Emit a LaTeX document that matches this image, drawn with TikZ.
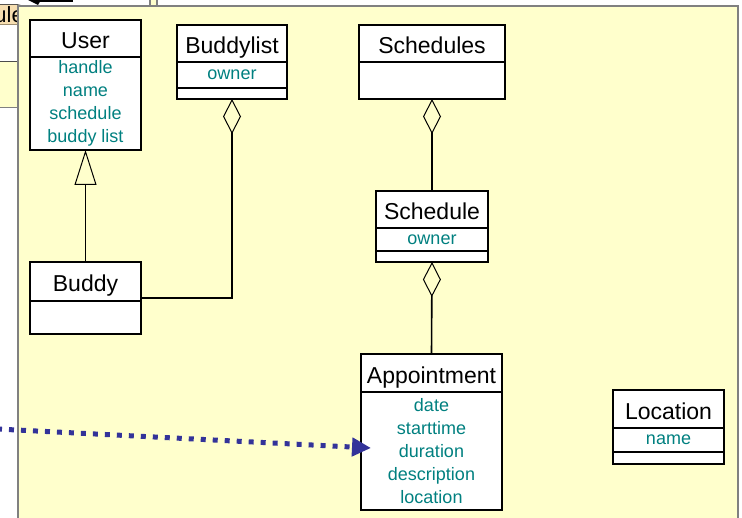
\documentclass[tikz,border=0pt]{standalone}
\usepackage{fontspec}
\setmainfont{Liberation Sans}
\usetikzlibrary{arrows.meta}

\definecolor{panel}{RGB}{255,255,204}
\definecolor{attrcol}{RGB}{0,128,128}
\definecolor{flowcol}{RGB}{51,51,153}
\definecolor{tabcol}{RGB}{246,222,176}

\begin{document}
\begin{tikzpicture}[x=1pt,y=-1pt,
  box/.style={draw, line width=1.6pt, fill=white, inner sep=0pt, outer sep=0pt, anchor=north west},
  head/.style={box, font=\fontsize{23}{25}\selectfont, text height=22pt, text depth=1pt},
  attr/.style={box, text=attrcol, align=center, font=\fontsize{18}{23}\selectfont},
  gen/.style={line width=1.6pt, -{Triangle[open, length=35pt, width=22pt, line width=1pt]}},
  aggr/.style={line width=1.6pt, -{Diamond[open, length=35pt, width=18pt, line width=1pt]}},
  flow/.style={flowcol, line width=5pt, dash pattern=on 5pt off 7pt, -{Triangle[length=19pt, width=18pt]}}
]

  \clip (0,0) rectangle (742,518);

  % Hintergrund
  \fill[white] (0,0) rectangle (742,518);
  \fill[panel] (0,62) rectangle (18,108);
  \draw[line width=1pt, black!70] (0,62) -- (18,62);
  \draw[line width=1pt, gray] (0,108) -- (18,108);
  \node[draw, fill=tabcol, rounded corners=8pt, inner sep=2pt, anchor=south east,
        font=\fontsize{22}{24}\selectfont] (tab) at (26,25) {ule};
  \fill (28,0) -- (41,0) -- (38,5) -- cycle;
  \draw[line width=1.5pt] (40,1) -- (73,1);
  \fill[panel] (150,0) rectangle (157,6);
  \draw[gray, line width=1.5pt] (150,0) -- (150,6) (157,0) -- (157,6);

  % Diagrammfläche
  \draw[gray, line width=2pt, fill=panel] (18,6.5) rectangle (738,540);

  % User
  \node[head, minimum width=111pt, minimum height=37pt] (userhead) at (30,20) {User};
  \node[attr, minimum width=111pt, minimum height=93pt] (userattr) at (userhead.south west)
    {handle\\name\\schedule\\buddy list};

  % Buddylist
  \node[head, minimum width=110pt, minimum height=37pt] (blhead) at (177,25) {Buddylist};
  \node[attr, minimum width=110pt, minimum height=26pt] (blattr) at (blhead.south west) {owner};
  \node[box, minimum width=110pt, minimum height=11pt] (blops) at (blattr.south west) {};

  % Schedules
  \node[head, minimum width=146pt, minimum height=37pt] (sshead) at (359,25) {Schedules};
  \node[box, minimum width=146pt, minimum height=37pt] (ssattr) at (sshead.south west) {};

  % Schedule
  \node[head, minimum width=112pt, minimum height=37pt] (shead) at (376,191) {Schedule};
  \node[attr, minimum width=112pt, minimum height=23pt] (sattr) at (shead.south west) {owner};
  \node[box, minimum width=112pt, minimum height=11pt] (sops) at (sattr.south west) {};

  % Buddy
  \node[head, minimum width=111pt, minimum height=39pt] (buddyhead) at (30,262) {Buddy};
  \node[box, minimum width=111pt, minimum height=33pt] (buddyattr) at (buddyhead.south west) {};

  % Appointment
  \node[head, minimum width=141pt, minimum height=38pt] (apphead) at (361,354) {Appointment};
  \node[attr, minimum width=141pt, minimum height=118pt] (appattr) at (apphead.south west)
    {date\\starttime\\duration\\description\\location};

  % Location
  \node[head, minimum width=111pt, minimum height=38pt] (lochead) at (613,390) {Location};
  \node[attr, minimum width=111pt, minimum height=24pt] (locattr) at (lochead.south west) {name};
  \node[box, minimum width=111pt, minimum height=12pt] (locops) at (locattr.south west) {};

  % Vererbung und Aggregationen
  \draw[gen] (buddyhead.north) -- (userattr.south);
  \path (blops.south |- buddyhead.south) ++(0,-3) coordinate (blbend);
  \draw[aggr] (buddyhead.east |- blbend) -- (blbend) -- (blops.south);
  \draw[aggr] (shead.north) -- (ssattr.south);
  \draw[aggr] (apphead.north) -- (sops.south);

  % gepunkteter Pfeil von links
  \coordinate (flowstart) at (-3,429);
  \draw[flow] (flowstart) -- ([xshift=10pt,yshift=3pt]appattr.west);

\end{tikzpicture}
\end{document}
